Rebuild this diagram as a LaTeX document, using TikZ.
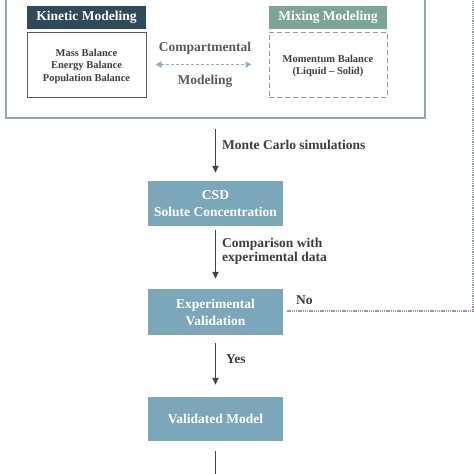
\documentclass[tikz,border=0pt]{standalone}
\usepackage{fontspec}
\setmainfont{Liberation Serif}
\usetikzlibrary{arrows.meta,positioning}
\definecolor{outerc}{HTML}{93A7AE}
\definecolor{kinc}{HTML}{2F4B5B}
\definecolor{mixc}{HTML}{7DA597}
\definecolor{flowc}{HTML}{7CA7BB}
\definecolor{arrc}{HTML}{3B4750}
\definecolor{txtc}{HTML}{3E3E3E}
\definecolor{compc}{HTML}{5A5A5A}
\definecolor{dashc}{HTML}{8DB0C4}
\definecolor{dotc}{HTML}{8A9DA6}
\tikzset{
  header/.style={minimum width=119pt,minimum height=23pt,inner sep=0pt,text=white,font=\fontsize{13.5}{15}\selectfont\bfseries},
  inbox/.style={minimum width=119pt,minimum height=65pt,inner sep=0pt},
  intext/.style={inner sep=0pt,align=center,text=txtc,font=\fontsize{10.5}{12.5}\selectfont\bfseries},
  flowbox/.style={fill=flowc,minimum width=135pt,inner sep=0pt,align=center,text=white,font=\fontsize{13.5}{17}\selectfont\bfseries},
  lbl/.style={anchor=west,inner sep=0pt,align=left,text=txtc,font=\fontsize{13.5}{14}\selectfont\bfseries},
  flowarrow/.style={draw=arrc,line width=1.8pt,-{Triangle[length=7pt,width=6pt]}},
}
\begin{document}
\begin{tikzpicture}[x=1pt,y=-1pt]
\useasboundingbox (0,0) rectangle (474,474);
\clip (0,0) rectangle (474,474);
\fill[white] (0,0) rectangle (474,474);
% outer box
\node[draw=outerc,line width=1.6pt,minimum width=419pt,minimum height=123pt,inner sep=0pt] (outer) at (215.5,56.5) {};
% kinetic
\node[header,fill=kinc] (kh) at (86.5,17.5) {Kinetic Modeling};
\node[inbox,draw=black!65,line width=1pt] (kb) at (86.5,64.5) {};
\node[intext] (kbt) at ([yshift=-1.5pt]kb.center) {Mass Balance\\Energy Balance\\Population Balance};
% mixing
\node[header,fill=mixc,minimum width=118pt] (mh) at (328,17.5) {Mixing Modeling};
\node[inbox,minimum width=118pt,draw=black!40,line width=1pt,dash pattern=on 5pt off 3pt] (mb) at (328,64.5) {};
\node[intext] (mbt) at ([yshift=-1.5pt]mb.center) {Momentum Balance\\(Liquid -- Solid)};
% compartmental
\node[inner sep=0pt,text=compc,font=\fontsize{13.5}{14}\selectfont\bfseries] (comp) at (205,48) {Compartmental};
\node[inner sep=0pt,text=compc,font=\fontsize{13.5}{14}\selectfont\bfseries] (cmod) at (205,81) {Modeling};
\draw[draw=dashc,line width=1.6pt,dash pattern=on 3pt off 2pt,{Triangle[length=6pt,width=6pt]}-{Triangle[length=6pt,width=6pt]}] ([xshift=9pt]kb.east) -- ([xshift=-17pt]mb.west);
% flow boxes
\node[flowbox,minimum height=45pt] (csd) at (215.5,203.5) {CSD\\Solute Concentration};
\node[flowbox,minimum height=46pt] (ev) at (215.5,312) {Experimental\\Validation};
\node[flowbox,minimum height=44pt] (vm) at (215.5,419) {Validated Model};
\coordinate (bottom) at (215.5,480);
% arrows
\draw[flowarrow,shorten <=10pt,shorten >=8pt] (outer.south) -- (csd.north);
\draw[flowarrow,shorten <=4pt,shorten >=10pt] (csd.south) -- (ev.north);
\draw[flowarrow,shorten <=8pt,shorten >=12pt] (ev.south) -- (vm.north);
\draw[draw=arrc,line width=1.8pt,shorten <=10pt] (vm.south) -- (bottom);
% labels
\node[lbl] (mc) at (222,145) {Monte Carlo simulations};
\node[lbl] (cmp) at (222,251.5) {Comparison with\\experimental data};
\node[lbl] (yes) at (226,359) {Yes};
\node[lbl] (no) at (296,300) {No};
% feedback dotted
\coordinate (fb1) at (473,311);
\coordinate (fb2) at (473,-5);
\draw[draw=dotc,line width=1.6pt,dash pattern=on 1.3pt off 0.9pt,shorten <=4pt] (ev.east |- fb1) -- (fb1) -- (fb2);
\end{tikzpicture}
\end{document}
